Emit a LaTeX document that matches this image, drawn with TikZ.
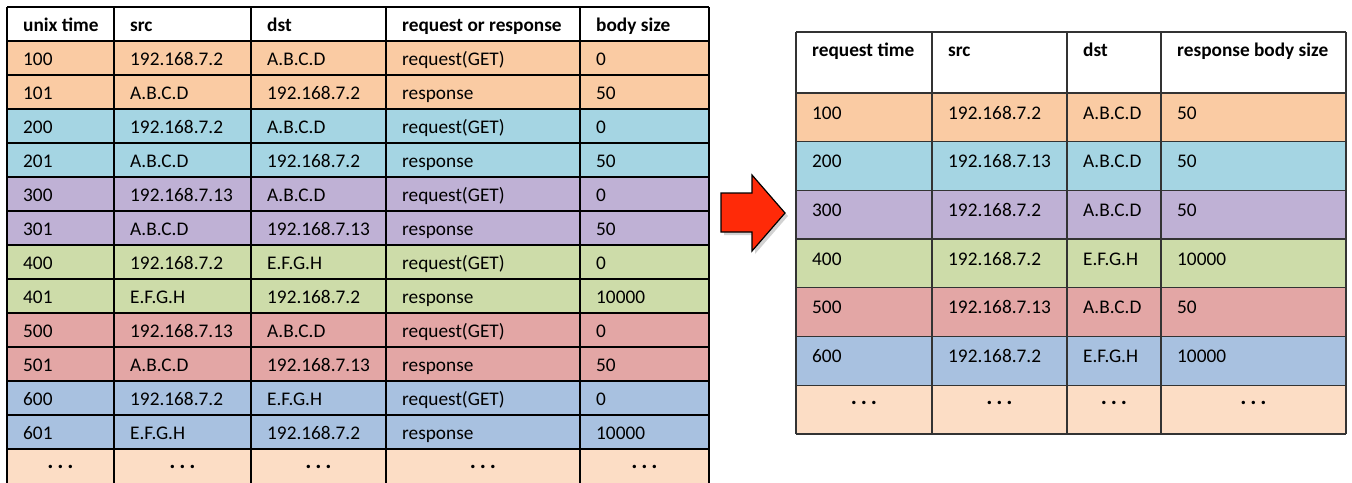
\documentclass[tikz,border=0pt]{standalone}
\usepackage{fontspec}
\setmainfont{Carlito}
\usetikzlibrary{shadows}

\definecolor{bandOrange}{HTML}{FACBA3}
\definecolor{bandCyan}{HTML}{A5D5E3}
\definecolor{bandPurple}{HTML}{BFB1D5}
\definecolor{bandGreen}{HTML}{CDDCA9}
\definecolor{bandRed}{HTML}{E3A6A5}
\definecolor{bandBlue}{HTML}{A8C1E0}
\definecolor{bandPeach}{HTML}{FCDDC5}
\definecolor{arrowRed}{HTML}{FF2A08}
\definecolor{gridGray}{HTML}{333333}

\tikzset{
  cell/.style={anchor=base west, inner sep=0pt, font=\fontsize{19.3}{23}\selectfont},
  headcell/.style={cell, font=\fontsize{19.3}{23}\selectfont\bfseries},
  more/.style={anchor=center, inner sep=0pt, font=\fontsize{23}{27}\selectfont\bfseries},
  gridline/.style={line width=1.3pt, draw=black},
  gridlineR/.style={line width=1.3pt, draw=gridGray},
  blockarrow/.style={fill=arrowRed, draw=black, line width=1.2pt, line join=miter,
    drop shadow={shadow xshift=3pt, shadow yshift=-3pt, opacity=0.35}},
}
\newcommand{\moredots}{.\hspace{0.17em}.\hspace{0.17em}.}

\begin{document}
\begin{tikzpicture}[x=1pt,y=-1pt]
\useasboundingbox (0,0) rectangle (1352,482);
\fill[white] (0,0) rectangle (1352,482);

% ---------- packet log (left) ----------
\foreach \k/\t/\s/\d/\r/\b/\c in {
  1/100/192.168.7.2/A.B.C.D/request(GET)/0/bandOrange,
  2/101/A.B.C.D/192.168.7.2/response/50/bandOrange,
  3/200/192.168.7.2/A.B.C.D/request(GET)/0/bandCyan,
  4/201/A.B.C.D/192.168.7.2/response/50/bandCyan,
  5/300/192.168.7.13/A.B.C.D/request(GET)/0/bandPurple,
  6/301/A.B.C.D/192.168.7.13/response/50/bandPurple,
  7/400/192.168.7.2/E.F.G.H/request(GET)/0/bandGreen,
  8/401/E.F.G.H/192.168.7.2/response/10000/bandGreen,
  9/500/192.168.7.13/A.B.C.D/request(GET)/0/bandRed,
  10/501/A.B.C.D/192.168.7.13/response/50/bandRed,
  11/600/192.168.7.2/E.F.G.H/request(GET)/0/bandBlue,
  12/601/E.F.G.H/192.168.7.2/response/10000/bandBlue}{
  \pgfmathsetmacro{\top}{41+34*(\k-1)}
  \fill[\c] (7,\top) rectangle (709,\top+34);
  \node[cell] (L-\k-1) at (23,\top+24.5) {\t};
  \node[cell] (L-\k-2) at (130,\top+24.5) {\s};
  \node[cell] (L-\k-3) at (267,\top+24.5) {\d};
  \node[cell] (L-\k-4) at (402,\top+24.5) {\r};
  \node[cell] (L-\k-5) at (596,\top+24.5) {\b};
}
\fill[bandPeach] (7,449) rectangle (709,490);

\node[headcell] (LH-1) at (23,31.5) {unix time};
\node[headcell] (LH-2) at (130,31.5) {src};
\node[headcell] (LH-3) at (267,31.5) {dst};
\node[headcell] (LH-4) at (402,31.5) {request or response};
\node[headcell] (LH-5) at (596,31.5) {body size};

\node[more] (LM-1) at (60.5,467) {\moredots};
\node[more] (LM-2) at (182.5,467) {\moredots};
\node[more] (LM-3) at (318.5,467) {\moredots};
\node[more] (LM-4) at (483,467) {\moredots};
\node[more] (LM-5) at (644.5,467) {\moredots};

\foreach \y in {7,41,75,...,449}
  \draw[gridline] (7,\y) -- (709,\y);
\foreach \x in {7,114,251,386,580,709}
  \draw[gridline] (\x,7) -- (\x,490);

% ---------- transformation arrow ----------
\draw[blockarrow] (721,193) -- (752,193) -- (752,175) -- (785,213)
  -- (752,251) -- (752,232) -- (721,232) -- cycle;

% ---------- request summary (right) ----------
\foreach \k/\t/\s/\d/\b/\c in {
  1/100/192.168.7.2/A.B.C.D/50/bandOrange,
  2/200/192.168.7.13/A.B.C.D/50/bandCyan,
  3/300/192.168.7.2/A.B.C.D/50/bandPurple,
  4/400/192.168.7.2/E.F.G.H/10000/bandGreen,
  5/500/192.168.7.13/A.B.C.D/50/bandRed,
  6/600/192.168.7.2/E.F.G.H/10000/bandBlue}{
  \pgfmathsetmacro{\top}{93+48.7*(\k-1)}
  \fill[\c] (796,\top) rectangle (1346,\top+48.7);
  \node[cell] (R-\k-1) at (812,\top+26) {\t};
  \node[cell] (R-\k-2) at (948,\top+26) {\s};
  \node[cell] (R-\k-3) at (1083,\top+26) {\d};
  \node[cell] (R-\k-4) at (1177,\top+26) {\b};
}
\fill[bandPeach] (796,385.2) rectangle (1346,433.9);

\node[headcell] (RH-1) at (812,56) {request time};
\node[headcell] (RH-2) at (948,56) {src};
\node[headcell] (RH-3) at (1083,56) {dst};
\node[headcell] (RH-4) at (1177,56) {response body size};

\node[more] (RM-1) at (864,403) {\moredots};
\node[more] (RM-2) at (999.5,403) {\moredots};
\node[more] (RM-3) at (1114,403) {\moredots};
\node[more] (RM-4) at (1253.5,403) {\moredots};

\foreach \y in {32,93,141.7,190.4,239.1,287.8,336.5,385.2,433.9}
  \draw[gridlineR] (796,\y) -- (1346,\y);
\foreach \x in {796,932,1067,1161,1346}
  \draw[gridlineR] (\x,32) -- (\x,433.9);
\end{tikzpicture}
\end{document}
